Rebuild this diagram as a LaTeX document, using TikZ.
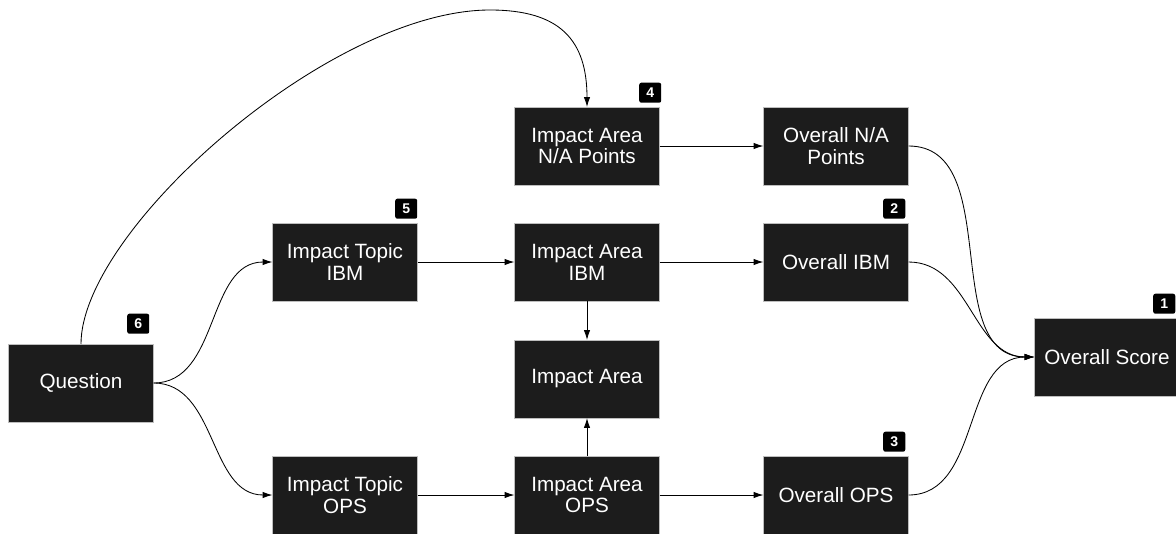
\documentclass[tikz,border=0pt]{standalone}
\usepackage{fontspec}
\setmainfont{Liberation Sans}
\usetikzlibrary{arrows.meta,calc}
\definecolor{boxfill}{RGB}{28,28,28}
\definecolor{boxline}{RGB}{190,190,190}

\begin{document}
\begin{tikzpicture}[x=0.025cm,y=-0.025cm,
		stage/.style={draw=boxline,line width=0.4pt,fill=boxfill,text=white,align=center,
			minimum width=3.625cm,minimum height=1.95cm,inner sep=0pt,outer sep=0pt,
			font=\fontsize{14.7}{15.6}\selectfont},
		badge/.style={fill=black,rounded corners=1.5pt,text=white,minimum width=0.55cm,
			minimum height=0.5cm,inner sep=0pt,anchor=south east,
			font=\fontsize{10}{10}\bfseries\selectfont},
		conn/.style={line width=0.6pt,-{Latex[length=7pt,width=4.5pt]}}]
		\useasboundingbox (0,0) rectangle (1176,533);
		\node[stage] (question) at (81,383) {Question};
		\node[stage] (topibm) at (345,262) {Impact Topic\\IBM};
		\node[stage] (topops) at (345,495) {Impact Topic\\OPS};
		\node[stage] (iana) at (587,146) {Impact Area\\N/A Points};
		\node[stage] (iaibm) at (587,262) {Impact Area\\IBM};
		\node[stage] (ia) at (587,379) {Impact Area};
		\node[stage] (iaops) at (587,495) {Impact Area\\OPS};
		\node[stage] (ovna) at (836,146) {Overall N/A\\Points};
		\node[stage] (ovibm) at (836,262) {Overall IBM};
		\node[stage] (ovops) at (836,495) {Overall OPS};
		\node[stage] (score) at (1107,357) {Overall Score};
		\node[badge] (b1) at ($(score.north east)+(-4,-4)$) {1};
		\node[badge] (b2) at ($(ovibm.north east)+(-3,-4)$) {2};
		\node[badge] (b3) at ($(ovops.north east)+(-3,-4)$) {3};
		\node[badge] (b4) at ($(iana.north east)+(2,-4)$) {4};
		\node[badge] (b5) at ($(topibm.north east)+(0,-4)$) {5};
		\node[badge] (b6) at ($(question.north east)+(-4,-10)$) {6};
		\draw[conn] (question.east) to[out=0,in=180] (topibm.west);
		\draw[conn] (question.east) to[out=0,in=180] (topops.west);
		\draw[conn] (question.north) .. controls (81,230) and (330,10) .. (490,10)
			.. controls (560,10) and (587,40) .. (iana.north);
		\draw[conn] (topibm) -- (iaibm);
		\draw[conn] (topops) -- (iaops);
		\draw[conn] (iana) -- (ovna);
		\draw[conn] (iaibm) -- (ovibm);
		\draw[conn] (iaops) -- (ovops);
		\draw[conn] (iaibm) -- (ia);
		\draw[conn] (iaops) -- (ia);
		\draw[conn] (ovna.east) to[out=0,in=180] (score.west);
		\draw[conn] (ovibm.east) to[out=0,in=180] (score.west);
		\draw[conn] (ovops.east) to[out=0,in=180] (score.west);
\end{tikzpicture}
\end{document}
